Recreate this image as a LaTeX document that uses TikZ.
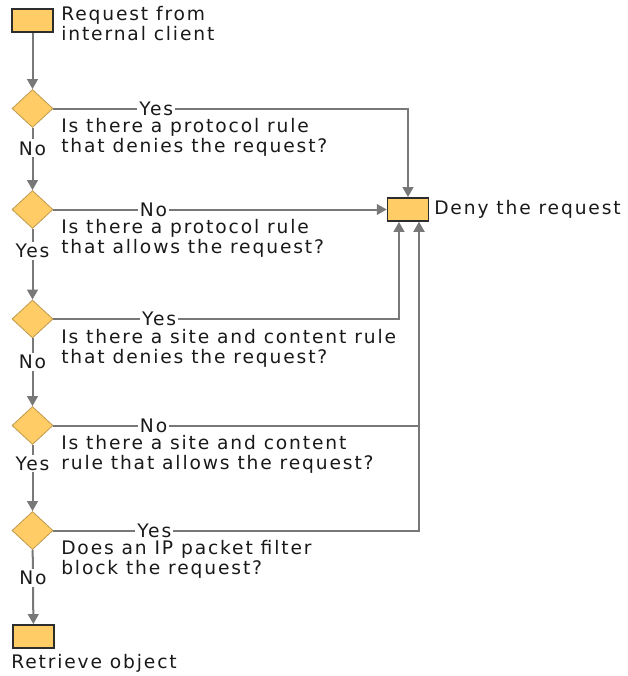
\documentclass[tikz,border=0pt]{standalone}
\usepackage{fontspec}
\setmainfont{DejaVu Sans}[LetterSpace=10]
\usetikzlibrary{arrows.meta,shapes.geometric}
\definecolor{boxfill}{RGB}{255,204,102}
\definecolor{boxline}{RGB}{45,45,45}
\definecolor{flowgray}{RGB}{120,120,120}
\begin{document}
\begin{tikzpicture}[
        x=0.75pt, y=-0.75pt,
        every node/.style={font=\fontsize{14}{15}\selectfont, text=black!90},
        terminal/.style={draw=boxline, fill=boxfill, line width=1.1pt, minimum width=30.75pt, minimum height=17.5pt, inner sep=0pt},
        decision/.style={diamond, draw=boxfill!75!black, fill=boxfill, line width=0.6pt, aspect=1, minimum width=30.75pt, minimum height=28.5pt, inner sep=0pt},
        question/.style={anchor=north west, align=left, inner sep=0pt},
        answer/.style={fill=white, inner sep=1.5pt},
        arrow/.style={-{Triangle[length=7.5pt, width=8pt]}, draw=flowgray, line width=1.5pt}
    ]
    \useasboundingbox (0,0) rectangle (628,676);

    % Start and end boxes
    \node[terminal] (start) at (32.5,20.5) {};
    \node[question] (startlbl) at (61,6) {Request from\\internal client};
    \node[terminal] (deny) at (408,209.5) {};
    \node[anchor=west, inner sep=0pt] (denylbl) at (434,209.5) {Deny the request};
    \node[terminal] (retrieve) at (33.5,636.5) {};
    \node[anchor=west, inner sep=0pt] (retrievelbl) at (11,663) {Retrieve object};

    % Decisions
    \node[decision] (d1) at (32.5,108.5) {};
    \node[decision] (d2) at (32.5,209.5) {};
    \node[decision] (d3) at (32.5,319) {};
    \node[decision] (d4) at (32.5,425.5) {};
    \node[decision] (d5) at (32.5,530.5) {};

    % Questions beside the decisions
    \node[question] (q1) at (61,118) {Is there a protocol rule\\that denies the request?};
    \node[question] (q2) at (61,219) {Is there a protocol rule\\that allows the request?};
    \node[question] (q3) at (61,329) {Is there a site and content rule\\that denies the request?};
    \node[question] (q4) at (61,435) {Is there a site and content\\rule that allows the request?};
    \node[question] (q5) at (61,540) {Does an IP packet filter\\block the request?};

    % Main path downwards
    \draw[arrow] (start) -- (d1);
    \draw[arrow] (d1) -- node[answer, pos=0.33] {No} (d2);
    \draw[arrow] (d2) -- node[answer, pos=0.31] {Yes} (d3);
    \draw[arrow] (d3) -- node[answer, pos=0.35] {No} (d4);
    \draw[arrow] (d4) -- node[answer, pos=0.28] {Yes} (d5);
    \draw[arrow] (d5) -- node[answer, pos=0.38] {No} (retrieve);

    % Branches to the deny box
    \draw[arrow] (d1) -| node[answer, pos=0.145] {Yes} (deny);
    \draw[arrow] (d2) -- node[answer, pos=0.3] {No} (deny);
    \draw[arrow] (d3) -| node[answer, pos=0.153] {Yes} ([xshift=-6.75pt]deny.south);
    \draw[arrow] (d4) -| node[answer, pos=0.137] {No} ([xshift=8.25pt]deny.south);
    \draw[arrow] (d5) -| node[answer, pos=0.138] {Yes} ([xshift=8.25pt]deny.south);

\end{tikzpicture}
\end{document}
